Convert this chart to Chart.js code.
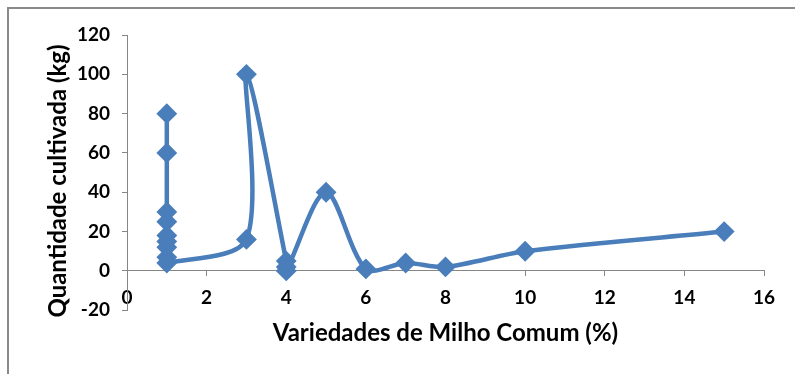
<!DOCTYPE html>
<html>
<head>
<meta charset="utf-8">
<script src="https://cdn.jsdelivr.net/npm/chart.js@4.4.1/dist/chart.umd.min.js"></script>
<style>
  html, body { margin: 0; padding: 0; background: #fff; }
  #wrap { position: relative; width: 795px; height: 374px; overflow: hidden; }
  #frame { position: absolute; left: 7px; top: 7px; right: -10px; bottom: -10px;
           border-left: 2px solid #8a8a8a; border-top: 2px solid #8a8a8a; }
  #c { position: absolute; left: 0; top: 0; }
</style>
</head>
<body>
<div id="wrap">
  <div id="frame"></div>
  <canvas id="c" width="795" height="374"></canvas>
</div>
<script>
// Varieties of common maize (%) against quantity grown (kg), in series order
const varietyPct = [1, 1, 1, 1, 1, 1, 1, 1, 1, 3, 3, 4, 4, 4, 5, 6, 7, 8, 10, 15];
const quantityKg = [80, 60, 30, 25, 18, 15, 12, 7, 4, 16, 100, 5, 2, 0, 40, 1, 4, 2, 10, 20];

const xTitle = 'Variedades de Milho Comum (%)';
const yTitle = 'Quantidade cultivada (kg)';

const BLUE = '#4a7ebb';
const AXIS = '#868686';
const FONT = 'Lato';

const points = varietyPct.map((x, i) => ({ x: x, y: quantityKg[i] }));

// Vertical axis title, drawn beside the value axis
const yTitlePlugin = {
  id: 'yTitle',
  afterDraw(chart) {
    const ctx = chart.ctx;
    ctx.save();
    ctx.font = 'bold 24px ' + FONT;
    ctx.fillStyle = '#000';
    ctx.textAlign = 'center';
    ctx.textBaseline = 'middle';
    ctx.translate(58, 181);
    ctx.rotate(-Math.PI / 2);
    ctx.fillText(yTitle, 0, 0);
    ctx.restore();
  }
};

new Chart(document.getElementById('c'), {
  type: 'scatter',
  data: {
    datasets: [{
      data: points,
      showLine: true,
      borderColor: BLUE,
      backgroundColor: BLUE,
      borderWidth: 4.5,
      tension: 0.3,
      pointStyle: 'rectRot',
      pointRadius: 9,
      pointBorderWidth: 2,
      pointBorderColor: BLUE,
      pointBackgroundColor: BLUE
    }]
  },
  options: {
    responsive: false,
    animation: false,
    layout: { padding: { top: 35, right: 31, left: 0, bottom: 0 } },
    plugins: {
      legend: { display: false },
      tooltip: { enabled: false },
      title: {
        display: true,
        text: xTitle,
        position: 'bottom',
        fullSize: false,
        color: '#000',
        font: { family: FONT, size: 24, weight: 'bold', lineHeight: 1.2 },
        padding: { top: 9, bottom: 26 }
      }
    },
    scales: {
      x: {
        type: 'linear',
        position: { y: 0 },
        min: 0, max: 16,
        afterFit(s) { s.height = 0; },
        ticks: { stepSize: 2, color: '#000', padding: 11, font: { family: FONT, size: 19, weight: 'bold' } },
        grid: { display: true, drawOnChartArea: false, drawTicks: true, tickLength: 5, color: AXIS },
        border: { display: true, color: AXIS }
      },
      y: {
        type: 'linear',
        position: 'left',
        min: -20, max: 120,
        afterFit(s) { s.width = 127; },
        ticks: { stepSize: 20, color: '#000', padding: 12, font: { family: FONT, size: 19, weight: 'bold' } },
        grid: { display: true, drawOnChartArea: false, drawTicks: true, tickLength: 5, color: AXIS },
        border: { display: true, color: AXIS }
      }
    }
  },
  plugins: [yTitlePlugin]
});
</script>
</body>
</html>
